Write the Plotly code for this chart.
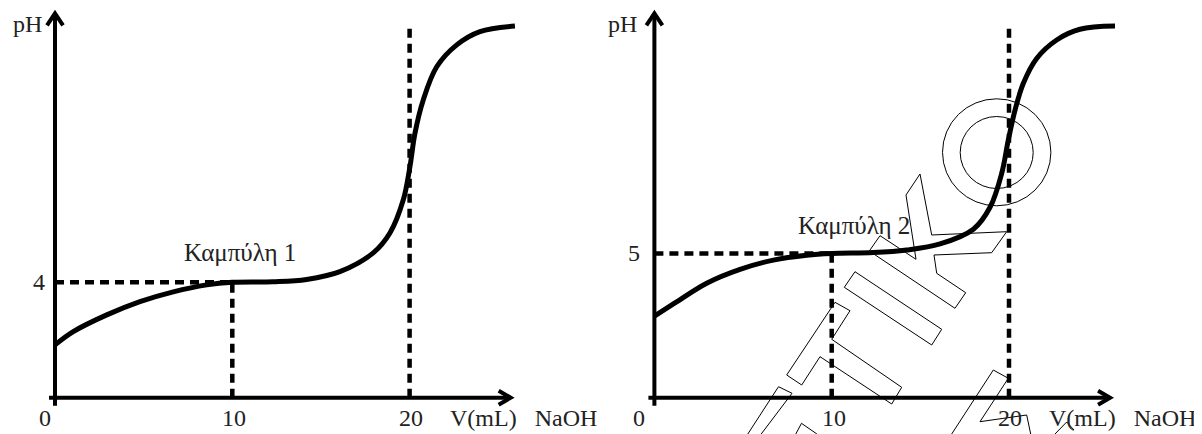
import plotly.graph_objects as go

# ---------------- data ----------------
x_ticks = [0, 10, 20]
x_tick_labels = ["0", "10", "20"]
x_title = "V(mL)\u00a0\u00a0\u00a0NaOH"
y_title = "pH"

# Curve 1 (left panel)
v1 = [0, 1.03, 2.92, 4.79, 6.67, 8.56, 10.0, 12.31, 14.19, 16.07, 17.95, 18.89,
      19.64, 20.02, 20.3, 20.77, 21.53, 22.66, 23.97, 25.94]
ph1 = [1.83, 2.29, 2.87, 3.33, 3.67, 3.91, 4.0, 4.02, 4.10, 4.37, 5.02, 5.71,
       6.85, 8.01, 9.16, 10.32, 11.47, 12.23, 12.69, 12.88]
half_eq_ph1 = 4
label1 = "Καμπύλη 1"

# Curve 2 (right panel)
v2 = [0, 1.07, 2.95, 4.83, 6.71, 8.59, 10.0, 12.35, 14.23, 16.11, 17.99, 18.93,
      19.59, 19.96, 20.34, 20.81, 21.56, 22.69, 24.0, 25.98]
ph2 = [2.83, 3.25, 3.97, 4.45, 4.77, 4.94, 5.0, 5.03, 5.12, 5.33, 5.84, 6.6,
       7.78, 8.93, 9.97, 10.9, 11.76, 12.4, 12.77, 12.88]
half_eq_ph2 = 5
label2 = "Καμπύλη 2"

v_half = 10
v_eq = 20
eq_line_top = 12.92

# ---------------- geometry ----------------
OFF = 8                     # page body margin of the html page
W, H = 1202 - OFF, 434 - OFF
PX_V = 17.73                # pixels per mL
PX_PH = 28.85               # pixels per pH unit
X_AXIS_PX = 397.7 - OFF     # pixel row of pH = 0
split = 601 - OFF
origins = [55.0 - OFF, 654.4 - OFF]  # pixel column of V = 0 in each panel

y_range = [-(H - X_AXIS_PX) / PX_PH, X_AXIS_PX / PX_PH]

FONT = "Liberation Serif, Times New Roman, serif"
TXT = "#222222"

fig = go.Figure()

panels = [
    dict(v=v1, ph=ph1, half=half_eq_ph1, label=label1, lab_x=240.3 - 55.0, lab_y=252,
         title_x=523.5 - 55.0, ytick_dx=-16, ph_dx=-28, zero_dx=-10),
    dict(v=v2, ph=ph2, half=half_eq_ph2, label=label2, lab_x=854 - 654.4, lab_y=225,
         title_x=1122 - 654.4, ytick_dx=-20, ph_dx=-32, zero_dx=-15),
]

annotations = []
for i, p in enumerate(panels):
    xa = "x" if i == 0 else "x2"
    ya = "y" if i == 0 else "y2"
    o = origins[i]
    d0 = 0 if i == 0 else split
    d1 = split if i == 0 else W
    xr = [(d0 - o) / PX_V, (d1 - o) / PX_V]
    axkey = "xaxis" if i == 0 else "xaxis2"
    aykey = "yaxis" if i == 0 else "yaxis2"
    fig.layout[axkey] = dict(domain=[d0 / W, d1 / W], range=xr, visible=False,
                             fixedrange=True, anchor=ya)
    fig.layout[aykey] = dict(domain=[0, 1], range=y_range, visible=False,
                             fixedrange=True, anchor=xa)

    dv = 1.0 / PX_V
    dp = 1.0 / PX_PH
    # dashed guide lines
    dash = dict(color="black", width=4.5, dash="9px,6px")
    fig.add_trace(go.Scatter(x=[0, v_half], y=[p["half"], p["half"]], mode="lines",
                             line=dash, xaxis=xa, yaxis=ya, hoverinfo="skip"))
    fig.add_trace(go.Scatter(x=[v_half, v_half], y=[0, p["half"]], mode="lines",
                             line=dash, xaxis=xa, yaxis=ya, hoverinfo="skip"))
    fig.add_trace(go.Scatter(x=[v_eq, v_eq], y=[0, eq_line_top], mode="lines",
                             line=dash, xaxis=xa, yaxis=ya, hoverinfo="skip"))

    # axes with arrowheads
    ax_line = dict(color="black", width=4)
    y_tip = 13.32
    x_tip = 25.7
    fig.add_trace(go.Scatter(x=[0, 0], y=[-8 * dp, y_tip], mode="lines", line=ax_line,
                             xaxis=xa, yaxis=ya, hoverinfo="skip"))
    fig.add_trace(go.Scatter(x=[-8 * dv, 0, 8 * dv], y=[y_tip - 12 * dp, y_tip, y_tip - 12 * dp],
                             mode="lines", line=ax_line, xaxis=xa, yaxis=ya, hoverinfo="skip"))
    fig.add_trace(go.Scatter(x=[-6 * dv, x_tip], y=[0, 0], mode="lines", line=ax_line,
                             xaxis=xa, yaxis=ya, hoverinfo="skip"))
    fig.add_trace(go.Scatter(x=[x_tip - 12 * dv, x_tip, x_tip - 12 * dv], y=[7 * dp, 0, -7 * dp],
                             mode="lines", line=ax_line, xaxis=xa, yaxis=ya, hoverinfo="skip"))

    # titration curve
    fig.add_trace(go.Scatter(x=p["v"], y=p["ph"], mode="lines",
                             line=dict(color="black", width=5, shape="spline", smoothing=1.0),
                             xaxis=xa, yaxis=ya, hoverinfo="skip"))

    # tick labels on x
    for tv, tl in zip(x_ticks, x_tick_labels):
        shift = p["zero_dx"] if tv == 0 else (1 if tv == 20 else 2)
        annotations.append(dict(x=tv, y=-20.5 * dp, xref=xa, yref=ya, text=tl,
                                showarrow=False, xshift=shift, xanchor="center",
                                yanchor="middle", font=dict(family=FONT, size=24, color=TXT)))
    # x title
    annotations.append(dict(x=p["title_x"] / PX_V, y=-20.5 * dp, xref=xa, yref=ya,
                            text=x_title, showarrow=False, xanchor="center", yanchor="middle",
                            font=dict(family=FONT, size=24, color=TXT)))
    # y tick label
    annotations.append(dict(x=0, y=p["half"], xref=xa, yref=ya, text=str(p["half"]),
                            showarrow=False, xshift=p["ytick_dx"], xanchor="center",
                            yanchor="middle", font=dict(family=FONT, size=24, color=TXT)))
    # pH title
    annotations.append(dict(x=0, y=(397.7 - 24) / PX_PH, xref=xa, yref=ya, text=y_title,
                            showarrow=False, xshift=p["ph_dx"], xanchor="center",
                            yanchor="middle", font=dict(family=FONT, size=24, color=TXT)))
    # curve label
    annotations.append(dict(x=p["lab_x"] / PX_V, y=(397.7 - p["lab_y"]) / PX_PH, xref=xa, yref=ya,
                            text=p["label"], showarrow=False, xanchor="center",
                            yanchor="middle", font=dict(family=FONT, size=25, color=TXT)))

# ---------------- watermark outlines (decoration, reference pixels) ----------------
def px_path(pts, close=True):
    s = "M " + " L ".join(f"{(x - OFF) / W:.5f},{1 - (y - OFF) / H:.5f}" for x, y in pts)
    return s + (" Z" if close else "")

wm_polys = [
    ([(920, 174), (931.7, 235), (1006.7, 231.7), (991.7, 252.7), (934, 255), (936.7, 273.3),
      (965.7, 292.7), (955, 308.3), (869.3, 251), (880, 235.7), (916, 259.3), (906, 195)], True),
    ([(855, 271.7), (941.7, 329.3), (931.7, 345), (844.3, 287.3)], True),
    ([(835, 302.3), (850, 310.7), (831.7, 339.3), (901.7, 387.3), (891.7, 404), (820, 356.7),
      (801.7, 385), (786.7, 375)], True),
    ([(747.8, 434), (778.5, 386.7), (792, 393.3), (761.2, 434)], False),
    ([(795.8, 434), (801.5, 423.3), (816.9, 434)], False),
    ([(951.7, 434), (993.3, 370), (1008.3, 378.3), (980, 421.7), (1026.7, 415), (1030.7, 434)], False),
    ([(1055, 434), (1066.7, 422), (1074, 430)], False),
]
shapes = []
for pts, cl in wm_polys:
    shapes.append(dict(type="path", xref="paper", yref="paper", path=px_path(pts, cl),
                       line=dict(color="black", width=1)))
for cx, cy, rx, ry in [(996.7, 152.3, 54.2, 53.5), (996.7, 152.5, 36.5, 36.0)]:
    shapes.append(dict(type="circle", xref="paper", yref="paper",
                       x0=(cx - rx - OFF) / W, x1=(cx + rx - OFF) / W,
                       y0=1 - (cy + ry - OFF) / H, y1=1 - (cy - ry - OFF) / H,
                       line=dict(color="black", width=1)))

fig.update_layout(
    width=W, height=H, autosize=False,
    margin=dict(l=0, r=0, t=0, b=0, pad=0),
    paper_bgcolor="white", plot_bgcolor="rgba(0,0,0,0)",
    showlegend=False,
    annotations=annotations,
    shapes=shapes,
)

fig.write_html("out.html")
